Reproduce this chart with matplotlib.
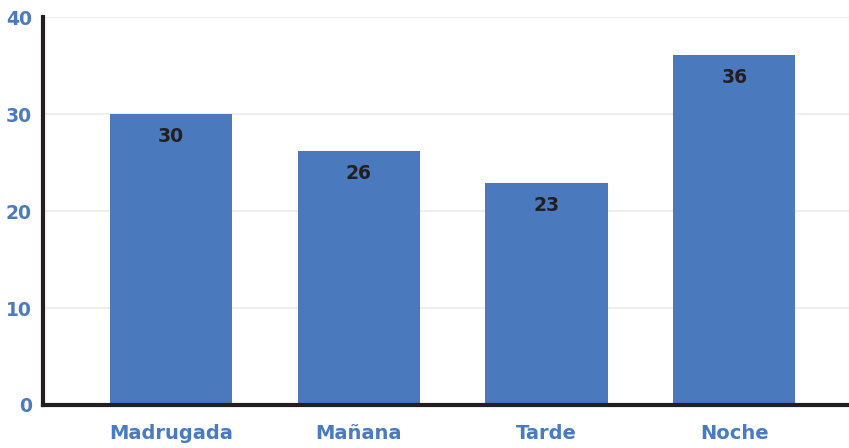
import numpy as np
import matplotlib.pyplot as plt

categorias = ['Madrugada', 'Mañana', 'Tarde', 'Noche']
valores = [30.0, 26.2, 22.9, 36.1]
etiquetas = ['30', '26', '23', '36']

azul = '#4b79bd'
texto_azul = '#4a7ac0'
negro = '#231f20'

fig = plt.figure(figsize=(8.49, 4.48), dpi=100)
ax = fig.add_axes([0.0506, 0.096, 0.9494, 0.866])

x = np.arange(len(categorias))
barras = ax.bar(x, valores, width=0.65, color=azul, zorder=3)

for b, lab in zip(barras, etiquetas):
    ax.annotate(lab, (b.get_x() + b.get_width() / 2, b.get_height()),
                xytext=(0, -16), textcoords='offset points',
                ha='center', va='center', fontsize=13.5, fontweight='bold',
                color=negro, zorder=4)

ax.set_ylim(0, 40)
ax.set_xlim(-0.68, 3.61)
ax.set_yticks([0, 10, 20, 30, 40])
ax.set_xticks(x)
ax.set_xticklabels(categorias)
ax.tick_params(axis='both', length=0, labelsize=13.5, labelcolor=texto_azul)
ax.tick_params(axis='y', pad=8)
ax.tick_params(axis='x', pad=14, labelsize=14)
for t in ax.get_xticklabels() + ax.get_yticklabels():
    t.set_fontweight('bold')

ax.grid(axis='y', color='#eeeeee', linewidth=1.5, zorder=0)
ax.spines['top'].set_visible(False)
ax.spines['right'].set_visible(False)
ax.spines['left'].set_linewidth(3)
ax.spines['bottom'].set_linewidth(3)
ax.spines['left'].set_color(negro)
ax.spines['bottom'].set_color(negro)
ax.spines['left'].set_zorder(5)
ax.spines['bottom'].set_zorder(5)

fig.savefig('out.png', dpi=100)
